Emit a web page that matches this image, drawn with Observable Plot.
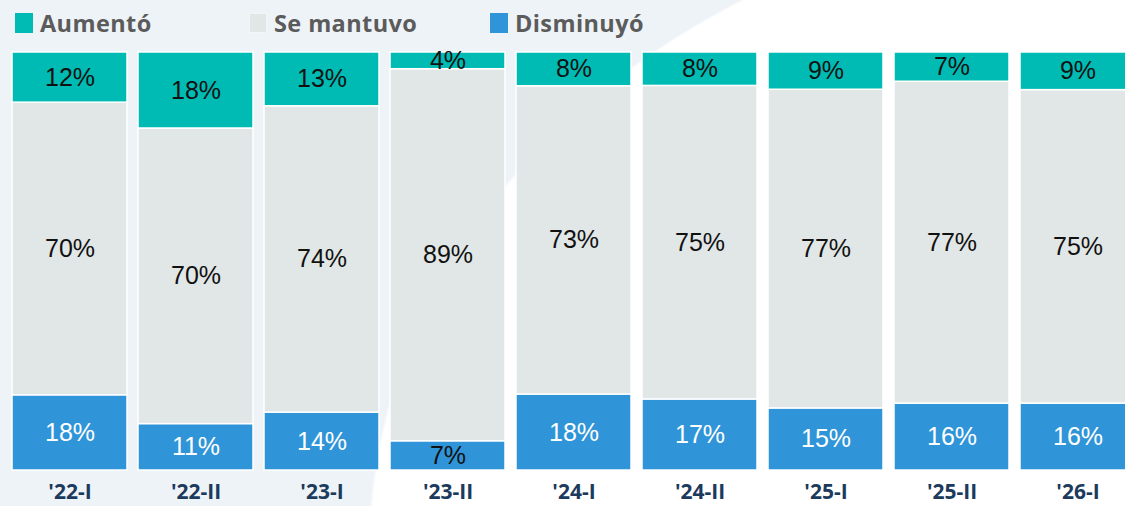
<!DOCTYPE html>
<html>
<head>
<meta charset="utf-8">
<script src="https://cdn.jsdelivr.net/npm/d3@7"></script>
<script src="https://cdn.jsdelivr.net/npm/@observablehq/plot@0.6"></script>
<style>
  html, body { margin: 0; padding: 0; width: 1125px; height: 506px; overflow: hidden; }
  body {
    background: radial-gradient(ellipse 782px 646px at 1150px 550px, #ffffff 99.6%, #eef3f8 100%);
    font-family: "Open Sans", "Liberation Sans", sans-serif;
  }
  #legend { height: 45px; display: flex; align-items: center; padding-left: 15px; box-sizing: border-box; }
  .item { display: flex; align-items: center; font-weight: 700; font-size: 23.5px; letter-spacing: 0.4px; color: #5b5b5b; }
  .sw { width: 18px; height: 20px; margin-right: 7px; box-sizing: border-box; }
</style>
</head>
<body>
<div id="legend"></div>
<div id="chart"></div>
<script>
const categories = ["'22-I", "'22-II", "'23-I", "'23-II", "'24-I", "'24-II", "'25-I", "'25-II", "'26-I"];
const aumento   = [12, 18, 13, 4, 8, 8, 9, 7, 9];
const mantuvo   = [70, 70, 74, 89, 73, 75, 77, 77, 75];
const disminuyo = [18, 11, 14, 7, 18, 17, 15, 16, 16];

const seriesNames  = ["Disminuyó", "Se mantuvo", "Aumentó"];
const seriesColors = ["#2f95d8", "#e1e6e6", "#00bbb3"];
const legendOrder  = ["Aumentó", "Se mantuvo", "Disminuyó"];

const seriesValues = {"Disminuyó": disminuyo, "Se mantuvo": mantuvo, "Aumentó": aumento};
const rows = [];
for (const s of seriesNames) {
  categories.forEach((c, i) => rows.push({cat: c, serie: s, value: seriesValues[s][i]}));
}

// legend
const legend = document.getElementById("legend");
const itemWidths = [234, 241, 200];
legendOrder.forEach((name, i) => {
  const it = document.createElement("div");
  it.className = "item";
  it.style.width = itemWidths[i] + "px";
  const sw = document.createElement("span");
  sw.className = "sw";
  sw.style.background = seriesColors[seriesNames.indexOf(name)];
  if (name === "Se mantuvo") sw.style.border = "1px solid #f4f6f6";
  it.appendChild(sw);
  const t = document.createElement("span");
  t.textContent = name;
  it.appendChild(t);
  legend.appendChild(it);
});

const isWhite = d => d.serie === "Disminuyó" && d.value >= 10;
const stackOpts = {x: "cat", y: "value", z: "serie", order: seriesNames, offset: "normalize"};

const chart = Plot.plot({
  width: 1147,
  height: 461,
  marginLeft: 0,
  marginRight: 0,
  marginTop: 7,
  marginBottom: 36,
  style: {background: "transparent", maxWidth: "none", overflow: "visible"},
  x: {domain: categories, padding: 0.09, label: null},
  y: {axis: null, domain: [0, 1]},
  color: {domain: seriesNames, range: seriesColors},
  marks: [
    Plot.barY(rows, Plot.stackY({...stackOpts, fill: "serie", stroke: "white", strokeWidth: 1.5})),
    Plot.text(rows, Plot.stackY({...stackOpts, text: d => isWhite(d) ? "" : d.value + "%",
      fill: "#111", fontSize: 25, fontFamily: "Liberation Sans, sans-serif"})),
    Plot.text(rows, Plot.stackY({...stackOpts, text: d => isWhite(d) ? d.value + "%" : "",
      fill: "white", fontSize: 25, fontFamily: "Liberation Sans, sans-serif"})),
    Plot.axisX({tickSize: 0, tickPadding: 14, fontSize: 21, fontWeight: 700, fill: "#1b3a5c",
      fontFamily: "Open Sans, sans-serif", label: null})
  ]
});
document.getElementById("chart").appendChild(chart);
</script>
</body>
</html>
